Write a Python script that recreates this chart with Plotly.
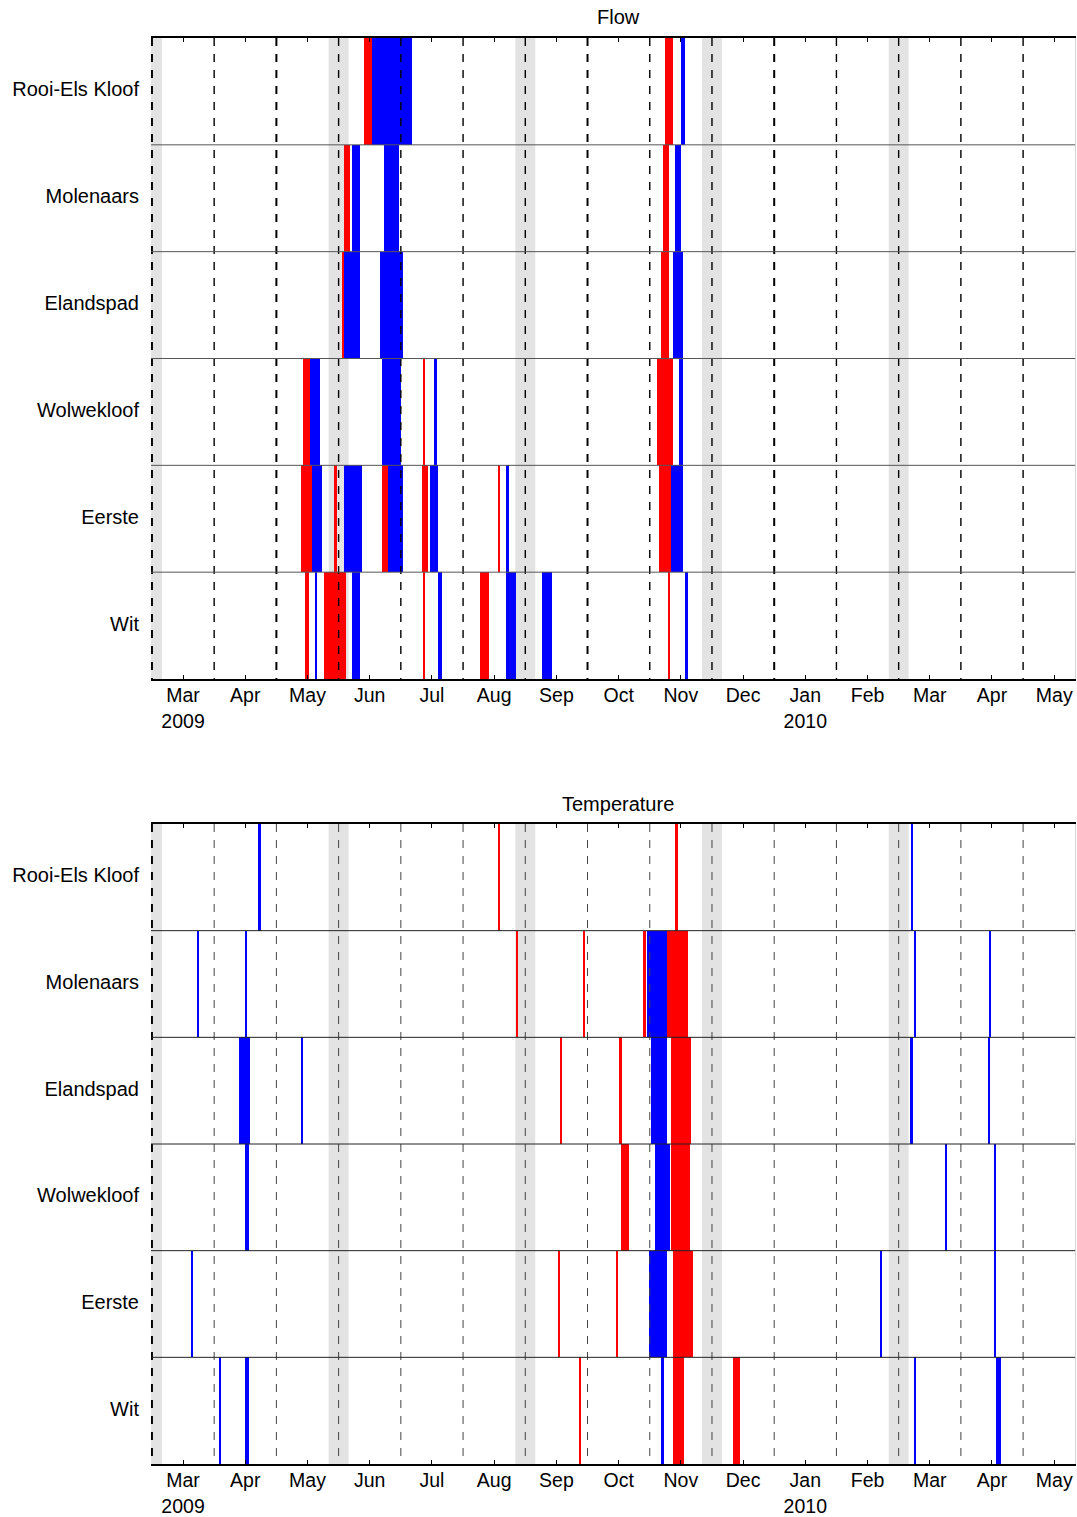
import pandas as pd
import plotly.graph_objects as go

# ---------------------------------------------------------------------------
# Data
# ---------------------------------------------------------------------------
SITES = ["Rooi-Els Kloof", "Molenaars", "Elandspad", "Wolwekloof", "Eerste", "Wit"]

MONTH_LABELS = ["Mar<br>2009", "Apr", "May", "Jun", "Jul", "Aug", "Sep", "Oct",
                "Nov", "Dec", "Jan<br>2010", "Feb", "Mar", "Apr", "May"]

# Events per site: (start date, duration in days)
FLOW_RED = {
    "Rooi-Els Kloof": [("2009-05-29", 4), ("2009-10-24", 4)],
    "Molenaars": [("2009-05-19", 3), ("2009-10-23", 3)],
    "Elandspad": [("2009-05-18", 1), ("2009-10-22", 4)],
    "Wolwekloof": [("2009-04-29", 3), ("2009-06-27", 0.5), ("2009-10-20", 8)],
    "Eerste": [("2009-04-28", 5), ("2009-05-14", 1.5), ("2009-06-07", 3),
               ("2009-06-26", 3), ("2009-08-03", 0.5), ("2009-10-21", 6)],
    "Wit": [("2009-04-30", 1.5), ("2009-05-09", 11), ("2009-06-27", 0.5),
            ("2009-07-25", 4.5), ("2009-10-26", 0.5)],
}

FLOW_BLUE = {
    "Rooi-Els Kloof": [("2009-06-02", 19.5), ("2009-11-01", 2)],
    "Molenaars": [("2009-05-23", 4), ("2009-06-08", 7), ("2009-10-29", 3)],
    "Elandspad": [("2009-05-19", 8), ("2009-06-06", 11), ("2009-10-28", 5)],
    "Wolwekloof": [("2009-05-02", 5), ("2009-06-07", 9), ("2009-07-02", 1.5),
                   ("2009-10-31", 2)],
    "Eerste": [("2009-05-03", 5), ("2009-05-19", 9), ("2009-06-10", 7),
               ("2009-06-30", 4), ("2009-08-07", 1.5), ("2009-10-27", 6)],
    "Wit": [("2009-05-05", 0.5), ("2009-05-23", 4), ("2009-07-04", 2),
            ("2009-08-07", 5), ("2009-08-25", 5), ("2009-11-03", 1.5)],
}

TEMP_RED = {
    "Rooi-Els Kloof": [("2009-08-03", 0.5), ("2009-10-29", 1.5)],
    "Molenaars": [("2009-08-12", 0.6), ("2009-09-14", 0.5), ("2009-10-13", 1.5),
                  ("2009-10-25", 10.5)],
    "Elandspad": [("2009-09-03", 0.7), ("2009-10-01", 1.5), ("2009-10-27", 10)],
    "Wolwekloof": [("2009-10-02", 4), ("2009-10-27", 9.5)],
    "Eerste": [("2009-09-02", 0.5), ("2009-09-30", 0.5), ("2009-10-28", 10)],
    "Wit": [("2009-09-12", 0.8), ("2009-10-28", 5.5), ("2009-11-26", 3.5)],
}

TEMP_BLUE = {
    "Rooi-Els Kloof": [("2009-04-07", 1.5), ("2010-02-21", 0.5)],
    "Molenaars": [("2009-03-08", 0.6), ("2009-04-01", 0.5), ("2009-10-15", 10),
                  ("2010-02-22", 1), ("2010-03-31", 0.6)],
    "Elandspad": [("2009-03-29", 5.5), ("2009-04-28", 1), ("2009-10-17", 8),
                  ("2010-02-20", 1.4), ("2010-03-30", 1)],
    "Wolwekloof": [("2009-04-01", 2), ("2009-10-19", 7.5), ("2010-03-09", 0.8),
                   ("2010-04-02", 1)],
    "Eerste": [("2009-03-05", 0.6), ("2009-10-16", 9.3), ("2010-02-07", 0.6),
               ("2010-04-02", 0.5)],
    "Wit": [("2009-03-19", 0.6), ("2009-04-01", 1.6), ("2009-10-22", 1.5),
            ("2010-02-22", 1), ("2010-04-03", 2.2)],
}

# ---------------------------------------------------------------------------
# Helpers
# ---------------------------------------------------------------------------
FONT = "Liberation Sans, Arial, sans-serif"
RED = "#ff0000"
BLUE = "#0000ff"
X_RANGE = [-0.515, 14.35]


def month_pos(ts):
    """Position on a month axis where 0 = start of March 2009, 1 month = 1 unit."""
    ts = pd.Timestamp(ts)
    k = (ts.year - 2009) * 12 + (ts.month - 3)
    frac = (ts.day - 1 + ts.hour / 24 + ts.minute / 1440) / ts.days_in_month
    return k + frac


def event_bars(events, color, xa, ya):
    ys, bases, lens = [], [], []
    for i, site in enumerate(SITES):
        for start, days in events.get(site, []):
            s = pd.Timestamp(start)
            e = s + pd.Timedelta(days=days)
            p0, p1 = month_pos(s), month_pos(e)
            ys.append(i + 0.5)
            bases.append(p0)
            lens.append(p1 - p0)
    return go.Bar(orientation="h", y=ys, x=lens, base=bases, width=1,
                  marker=dict(color=color, line=dict(width=0)),
                  xaxis=xa, yaxis=ya, showlegend=False, hoverinfo="skip")


fig = go.Figure()
for xa, ya, red, blue in [("x", "y", FLOW_RED, FLOW_BLUE),
                          ("x2", "y2", TEMP_RED, TEMP_BLUE)]:
    fig.add_trace(event_bars(red, RED, xa, ya))
    fig.add_trace(event_bars(blue, BLUE, xa, ya))

H = 1517
flow_dom = [1 - 679 / H, 1 - 38 / H]
temp_dom = [1 - 1464 / H, 1 - 824 / H]

xaxis_style = dict(
    range=X_RANGE, domain=[0, 1], tickmode="array",
    tickvals=list(range(len(MONTH_LABELS))), ticktext=MONTH_LABELS,
    ticks="inside", ticklen=4, tickwidth=1, tickcolor="black",
    showline=True, mirror="ticks", linecolor="black", linewidth=1.5,
    showgrid=False, zeroline=False, automargin=False,
    ticklabelstandoff=-2,
    tickfont=dict(family=FONT, size=19.5, color="black"),
)
yaxis_style = dict(
    range=[6, 0], tickmode="array",
    tickvals=[i + 0.5 for i in range(len(SITES))], ticktext=SITES,
    ticks="", showline=False, showgrid=False, zeroline=False, automargin=False,
    ticklabelstandoff=11, ticklabelshift=2,
    tickfont=dict(family=FONT, size=20, color="black"),
)

fig.update_layout(
    width=1077, height=H,
    margin=dict(l=151, r=1, t=0, b=0),
    paper_bgcolor="white", plot_bgcolor="white",
    barmode="overlay", bargap=0,
    xaxis=dict(anchor="y", **xaxis_style),
    yaxis=dict(anchor="x", domain=flow_dom, **yaxis_style),
    xaxis2=dict(anchor="y2", **xaxis_style),
    yaxis2=dict(anchor="x2", domain=temp_dom, **yaxis_style),
)

shapes = []
bands = [-0.5 + 3 * i for i in range(5)]
half_months = [m + 0.5 for m in range(-1, 14)]
panels = [
    # x ref, y ref, normal dash colour, normal width, heavy positions, separator colour
    ("x", "y", "black", 1.4, [-0.5, 1.5, 6.5, 9.5], "#555555"),
    ("x2", "y2", "#444444", 1.0, [-0.5], "#222222"),
]
for xr, yr, dash_color, dash_w, heavy, sep_color in panels:
    ydom = yr + " domain"
    xdom = xr + " domain"
    # grey seasonal bands
    for c in bands:
        shapes.append(dict(type="rect", xref=xr, yref=ydom, x0=c - 0.16, x1=c + 0.16,
                           y0=0, y1=1, fillcolor="#e3e3e3", line=dict(width=0),
                           layer="below"))
    # dashed mid-month separators
    for m in half_months:
        w = 2 if m in heavy else dash_w
        col = "black" if m in heavy else dash_color
        shapes.append(dict(type="line", xref=xr, yref=ydom, x0=m, x1=m, y0=1, y1=0,
                           line=dict(color=col, width=w, dash="8px,8px"),
                           layer="above"))
    # row separators
    for r in range(1, len(SITES)):
        shapes.append(dict(type="line", xref=xdom, yref=yr, x0=0, x1=1, y0=r, y1=r,
                           line=dict(color=sep_color, width=1), layer="above"))
    # faint right border
    shapes.append(dict(type="line", xref=xdom, yref=ydom, x0=0.9995, x1=0.9995,
                       y0=0, y1=1, line=dict(color="#d4d4d4", width=1), layer="above"))

fig.update_layout(shapes=shapes)

title_x = (618 - 151) / (1077 - 152)
fig.update_layout(annotations=[
    dict(text="Flow", xref="paper", yref="paper", x=title_x, y=1 - 17.5 / H,
         xanchor="center", yanchor="middle", showarrow=False,
         font=dict(family=FONT, size=20, color="black")),
    dict(text="Temperature", xref="paper", yref="paper", x=title_x, y=1 - 804 / H,
         xanchor="center", yanchor="middle", showarrow=False,
         font=dict(family=FONT, size=20, color="black")),
])

fig.write_html("out.html")
